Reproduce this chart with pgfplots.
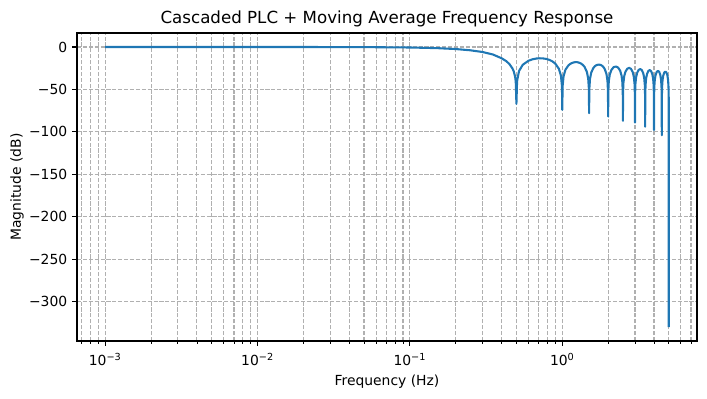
\documentclass[border=0pt]{standalone}
\usepackage{fontspec}
\setmainfont{DejaVu Sans}
\usepackage{pgfplots}
\pgfplotsset{compat=1.18}
\definecolor{mplblue}{HTML}{1F77B4}
\definecolor{gridgray}{HTML}{B0B0B0}
\begin{document}
\begin{tikzpicture}
\begin{axis}[
  xmode=log,
  scale only axis,
  width=446.4pt, height=221.8pt,
  xmin=6.53e-4, xmax=7.66,
  ymin=-346.5, ymax=16.5,
  axis line style={line width=0.8pt},
  tick align=outside, tick pos=left,
  major tick length=3.5pt, minor tick length=2pt,
  every tick/.append style={black, line width=0.8pt},
  every minor tick/.append style={black, line width=0.6pt},
  xtick={0.001,0.01,0.1,1},
  xticklabels={10\textsuperscript{−3},10\textsuperscript{−2},10\textsuperscript{−1},10\textsuperscript{0}},
  minor xtick={0.0007,0.0008,0.0009,0.002,0.003,0.004,0.005,0.006,0.007,0.008,0.009,0.02,0.03,0.04,0.05,0.06,0.07,0.08,0.09,0.2,0.3,0.4,0.5,0.6,0.7,0.8,0.9,2,3,4,5,6,7},
  ytick={-300,-250,-200,-150,-100,-50,0},
  yticklabels={−300,−250,−200,−150,−100,−50,0},
  grid=both,
  major grid style={gridgray, dash pattern=on 2.96pt off 1.28pt, line width=0.8pt},
  minor grid style={gridgray, dash pattern=on 2.96pt off 1.28pt, line width=0.8pt},
  tick label style={font=\fontsize{10}{12}\selectfont},
  xticklabel style={yshift=-2pt},
  label style={font=\fontsize{10}{12}\selectfont},
  xlabel style={yshift=0.5pt},
  ylabel style={yshift=-3pt},
  title style={font=\fontsize{12}{14}\selectfont, yshift=-5pt},
  title={Cascaded PLC + Moving Average Frequency Response},
  xlabel={Frequency (Hz)},
  ylabel={Magnitude (dB)},
]
\addplot[mplblue, line width=1.5pt, line join=round, no marks] coordinates {
(0.001,0) (0.002,0) (0.005,-0.001) (0.01,-0.006) (0.02,-0.023) (0.05,-0.143)
(0.1,-0.578) (0.15,-1.32) (0.2,-2.41) (0.25,-3.91) (0.3,-5.93) (0.35,-8.8)
(0.4,-13.3) (0.43,-16.8) (0.45,-20.2) (0.47,-25.0) (0.48,-28.6) (0.49,-34.8) (0.495,-40.9) (0.5,-67)
(0.505,-40.2) (0.52,-28.4) (0.55,-21.0) (0.6,-16.2) (0.6375,-14.5) (0.675,-13.6) (0.7125,-13.3) (0.75,-13.5) (0.7875,-14.1) (0.825,-15.3) (0.8625,-17.0) (0.9,-19.6) (0.95,-25.7) (0.98,-33.8) (0.995,-45.9) (1.0,-74)
(1.005,-46.1) (1.02,-34.2) (1.05,-26.6) (1.1,-21.4) (1.1375,-19.5) (1.175,-18.4) (1.2125,-17.9) (1.25,-17.9) (1.2875,-18.4) (1.325,-19.4) (1.3625,-21.0) (1.4,-23.4) (1.45,-29.3) (1.48,-37.3) (1.495,-49.4) (1.5,-78)
(1.505,-49.7) (1.52,-37.7) (1.55,-30.0) (1.6,-24.7) (1.6375,-22.6) (1.675,-21.4) (1.7125,-20.9) (1.75,-20.8) (1.7875,-21.2) (1.825,-22.1) (1.8625,-23.6) (1.9,-26.0) (1.95,-31.8) (1.98,-39.8) (1.995,-51.9) (2.0,-82)
(2.005,-52.2) (2.02,-40.2) (2.05,-32.5) (2.1,-27.1) (2.175,-23.7) (2.25,-23.0) (2.325,-24.2) (2.4,-28.1) (2.45,-33.8) (2.48,-41.7) (2.495,-53.8) (2.5,-87)
(2.505,-54.1) (2.52,-42.1) (2.55,-34.4) (2.6,-28.9) (2.675,-25.5) (2.75,-24.6) (2.825,-25.8) (2.9,-29.6) (2.95,-35.3) (2.98,-43.2) (2.995,-55.2) (3.0,-89)
(3.005,-55.7) (3.02,-43.7) (3.05,-35.9) (3.1,-30.4) (3.175,-26.9) (3.25,-26.0) (3.325,-27.2) (3.4,-30.9) (3.45,-36.6) (3.48,-44.4) (3.495,-56.5) (3.5,-94)
(3.505,-57.0) (3.52,-45.0) (3.55,-37.2) (3.6,-31.7) (3.675,-28.2) (3.75,-27.2) (3.825,-28.3) (3.9,-32.0) (3.95,-37.6) (3.98,-45.5) (3.995,-57.5) (4.0,-98)
(4.005,-58.1) (4.02,-46.0) (4.05,-38.2) (4.1,-32.7) (4.175,-29.1) (4.25,-28.2) (4.325,-29.2) (4.4,-32.9) (4.45,-38.5) (4.48,-46.3) (4.495,-58.4) (4.5,-104)
(4.505,-59.0) (4.52,-47.0) (4.55,-39.1) (4.6,-33.6) (4.675,-30.0) (4.75,-29.0) (4.825,-30.0) (4.9,-33.6) (4.95,-39.2) (4.98,-47.1) (4.995,-59.1) (5.0,-330)
};
\coordinate (bl) at (rel axis cs:0,0);
\coordinate (tr) at (rel axis cs:1,1);
\end{axis}
\pgfresetboundingbox
\path[use as bounding box] ([xshift=-55.44pt,yshift=-41.04pt]bl) rectangle ([xshift=7.2pt,yshift=23.76pt]tr);
\end{tikzpicture}
\end{document}
